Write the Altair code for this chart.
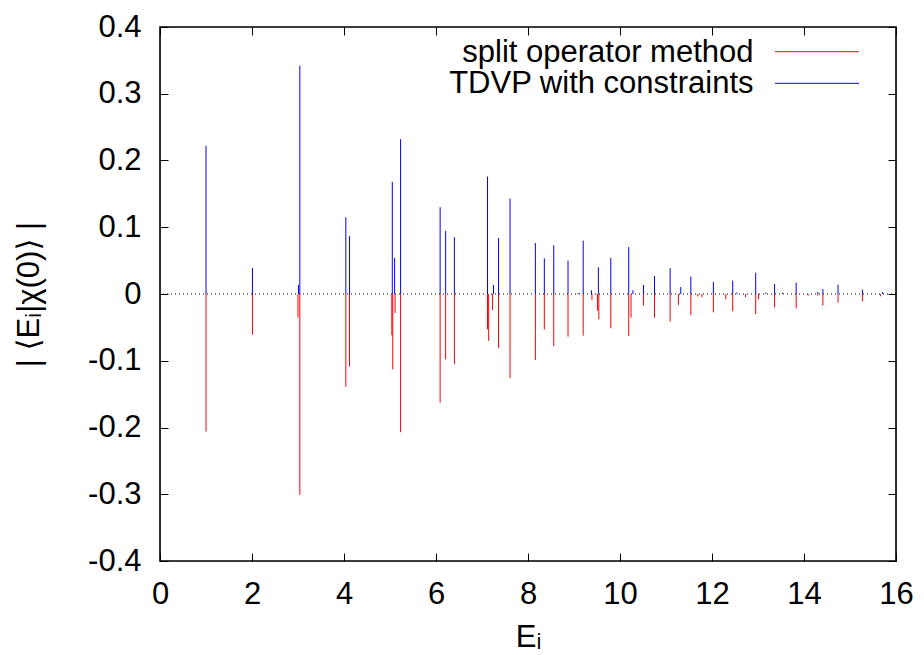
import altair as alt
import pandas as pd

# ---- data ----
# split operator method (red), plotted downwards
split_E = [1.00, 2.01, 3.00, 3.04, 4.04, 4.12, 5.04, 5.06, 5.11, 5.23, 6.09, 6.21,
           6.40, 7.12, 7.145, 7.23, 7.36, 7.61, 8.16, 8.355, 8.56, 8.87, 9.20, 9.39,
           9.51, 9.54, 9.80, 10.19, 10.24, 10.51, 10.75, 11.09, 11.27, 11.54, 11.69,
           11.78, 12.03, 12.30, 12.45, 12.73, 12.95, 13.01, 13.36, 13.83, 14.09, 14.30,
           14.41, 14.74, 15.27, 15.66]
split_v = [-0.206, -0.061, -0.0355, -0.301, -0.139, -0.1086, -0.062, -0.113, -0.0285, -0.207,
           -0.163, -0.098, -0.105, -0.053, -0.0704, -0.024, -0.081, -0.126, -0.099, -0.053,
           -0.078, -0.064, -0.0624, -0.009, -0.025, -0.038, -0.0515, -0.063, -0.0355, -0.0175,
           -0.0355, -0.0415, -0.0165, -0.032, -0.0035, -0.005, -0.0275, -0.008, -0.026, -0.005,
           -0.0305, -0.008, -0.020, -0.0215, -0.0025, -0.0025, -0.0175, -0.013, -0.011, -0.0035]

# TDVP with constraints (blue), plotted upwards
tdvp_E = [1.00, 2.01, 3.01, 3.04, 4.04, 4.12, 5.05, 5.10, 5.23, 6.09, 6.21, 6.40,
          7.12, 7.25, 7.36, 7.61, 8.16, 8.355, 8.56, 8.87, 9.09, 9.20, 9.38, 9.53,
          9.80, 10.19, 10.28, 10.51, 10.75, 11.09, 11.32, 11.54, 12.03, 12.45, 12.54,
          12.95, 13.17, 13.36, 13.53, 13.83, 14.30, 14.41, 14.74, 15.27, 15.71]
tdvp_v = [0.222, 0.039, 0.0134, 0.342, 0.115, 0.0866, 0.168, 0.054, 0.232, 0.130, 0.0946, 0.085,
          0.176, 0.0135, 0.084, 0.143, 0.0764, 0.0534, 0.073, 0.050, 0.0015, 0.080, 0.0055, 0.040,
          0.054, 0.0704, 0.0055, 0.0135, 0.027, 0.0388, 0.0105, 0.026, 0.018, 0.020, 0.002,
          0.032, 0.002, 0.015, 0.002, 0.017, 0.003, 0.0075, 0.014, 0.0065, 0.003]

x_ticks = [0, 2, 4, 6, 8, 10, 12, 14, 16]
y_ticks = [-0.4, -0.3, -0.2, -0.1, 0, 0.1, 0.2, 0.3, 0.4]
legend_labels = ["split operator method", "TDVP with constraints"]
legend_colors = ["#ff0000", "#0000ff"]

FONT = "Liberation Sans, Arial, DejaVu Sans"
FS = 31
W, H = 736, 534

red_df = pd.DataFrame({"E": split_E, "v": split_v, "zero": [0.0] * len(split_E)})
blue_df = pd.DataFrame({"E": tdvp_E, "v": tdvp_v, "zero": [0.0] * len(tdvp_E)})

xs = alt.Scale(domain=[0, 16], nice=False, zero=False)
ys = alt.Scale(domain=[-0.4, 0.4], nice=False, zero=False)

ylab = "datum.value == 0 ? '0' : toString(round(datum.value * 10) / 10)"

x_bottom = alt.Axis(orient="bottom", values=x_ticks, offset=-8, tickSize=8, tickColor="black",
                    tickWidth=1, domain=False, grid=False, labelFontSize=FS, labelFont=FONT,
                    labelColor="black", labelPadding=18, labelFlush=False, labelOverlap=False,
                    title="Eᵢ", titleFont=FONT, titleFontSize=FS, titleFontWeight="normal",
                    titleColor="black", titleX=W / 2, titleY=93, titleAlign="center",
                    titleBaseline="alphabetic")
y_left = alt.Axis(orient="left", values=y_ticks, offset=-8, tickSize=8, tickColor="black",
                  tickWidth=1, domain=False, grid=False, labelFontSize=FS, labelFont=FONT,
                  labelColor="black", labelPadding=19, labelExpr=ylab, labelOverlap=False,
                  labelFlush=False,
                  title="| ⟨Eᵢ|χ(0)⟩ |", titleFont=FONT, titleFontSize=FS,
                  titleFontWeight="normal", titleColor="black", titleAngle=270,
                  titleX=-139, titleY=267, titleAlign="center", titleBaseline="middle")
x_top = alt.Axis(orient="top", values=x_ticks, offset=-8, tickSize=8, tickColor="black",
                 tickWidth=1, domain=False, grid=False, labels=False, title="")
y_right = alt.Axis(orient="right", values=y_ticks, offset=-8, tickSize=8, tickColor="black",
                   tickWidth=1, domain=False, grid=False, labels=False, title="")

zero_line = alt.Chart(pd.DataFrame({"z": [0.0]})).mark_rule(
    color="black", strokeWidth=1, strokeDash=[1, 3]
).encode(y=alt.Y("z:Q", scale=ys, axis=None))

red = alt.Chart(red_df).mark_rule(color="#ff0000", strokeWidth=1).encode(
    x=alt.X("E:Q", scale=xs, axis=x_bottom),
    y=alt.Y("v:Q", scale=ys, axis=y_left),
    y2="zero:Q",
)

blue = alt.Chart(blue_df).mark_rule(color="#0000ff", strokeWidth=1).encode(
    x=alt.X("E:Q", scale=xs, axis=x_top),
    y=alt.Y("v:Q", scale=ys, axis=y_right),
    y2="zero:Q",
)

frame = alt.Chart(pd.DataFrame({"f": [0]})).mark_rect(
    fill="white", fillOpacity=0, stroke="black", strokeWidth=1.6
).encode(x=alt.value(0), x2=alt.value(W), y=alt.value(0), y2=alt.value(H))

legend_layers = []
leg_text_y = [34.7, 66.3]
leg_line_y = [24.7, 56.3]
for lab, col, ty, ly in zip(legend_labels, legend_colors, leg_text_y, leg_line_y):
    ld = pd.DataFrame({"label": [lab]})
    legend_layers.append(
        alt.Chart(ld).mark_text(align="right", baseline="alphabetic", font=FONT,
                                fontSize=FS, color="black").encode(
            text="label:N", x=alt.value(593.5), y=alt.value(ty))
    )
    legend_layers.append(
        alt.Chart(ld).mark_rule(color=col, strokeWidth=1).encode(
            x=alt.value(615), x2=alt.value(699), y=alt.value(ly))
    )

chart = alt.layer(zero_line, red, blue, frame, *legend_layers).resolve_axis(
    x="independent", y="independent"
).properties(
    width=W, height=H,
    autosize=alt.AutoSizeParams(type="none"),
    padding={"left": 160, "top": 27, "right": 28, "bottom": 94},
).configure_view(stroke=None).configure(background="white")

chart.save("out.html", embed_options={"renderer": "svg", "actions": False})
